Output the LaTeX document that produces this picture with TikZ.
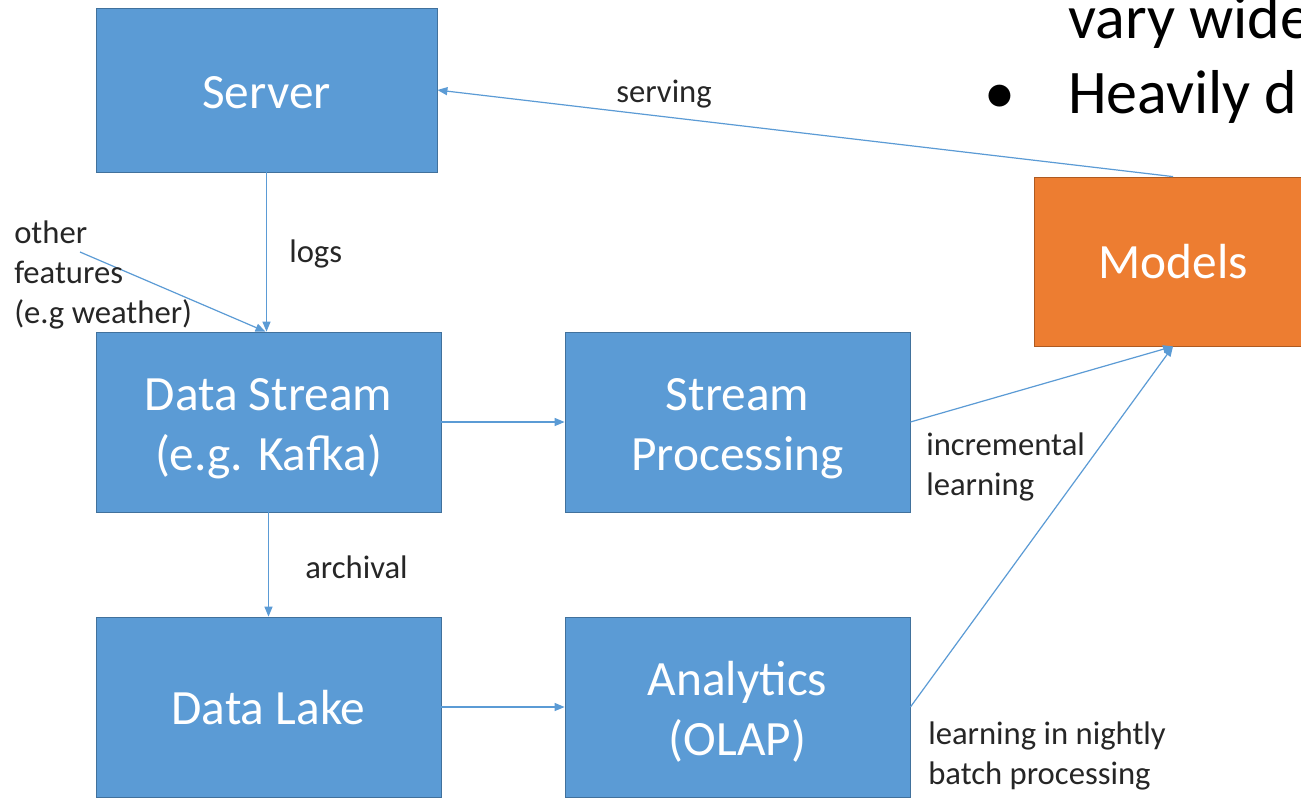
\documentclass[tikz,border=0pt]{standalone}
\usepackage{fontspec}
\setmainfont{Carlito}
\usetikzlibrary{arrows.meta}
\definecolor{boxblue}{HTML}{5B9BD5}
\definecolor{boxblueline}{HTML}{41719C}
\definecolor{boxorange}{HTML}{ED7D31}
\definecolor{boxorangeline}{HTML}{AE5A21}
\begin{document}
\begin{tikzpicture}[x=0.75pt,y=-0.75pt,
  boxtxt/.style={text=white,inner sep=0pt,align=center,font=\fontsize{37}{45}\selectfont},
  bluebox/.style={draw=boxblueline,line width=0.6pt,fill=boxblue,inner sep=0pt},
  orangebox/.style={draw=boxorangeline,line width=0.6pt,fill=boxorange,inner sep=0pt},
  conn/.style={draw=boxblue,line width=0.9pt,-{Triangle[length=7.5pt,width=6pt]}},
  lbl/.style={inner sep=0pt,font=\fontsize{24.5}{30}\selectfont,text=black!85},
  lbll/.style={lbl,anchor=west,align=left}]
\useasboundingbox (0,0) rectangle (1301,797);
\clip (0,0) rectangle (1301,797);
\fill[white] (0,0) rectangle (1301,797);

\node[bluebox,minimum width=255.75pt,minimum height=123pt,
  label={[boxtxt,yshift=-2.25pt]center:Server}] (SV) at (266.5,90) {};
\node[bluebox,minimum width=258.75pt,minimum height=135pt,
  label={[boxtxt,yshift=-4.75pt]center:Data Stream\\(e.g. Kafka)}] (DS) at (268.5,422) {};
\node[bluebox,minimum width=258.75pt,minimum height=135pt,
  label={[boxtxt,yshift=-4.75pt]center:Stream\\Processing}] (SP) at (737.5,422) {};
\node[bluebox,minimum width=258.75pt,minimum height=135pt,
  label={[boxtxt,yshift=-0.75pt]center:Data Lake}] (DL) at (268.5,707) {};
\node[bluebox,minimum width=258.75pt,minimum height=135pt,
  label={[boxtxt,yshift=-3.75pt]center:Analytics\\(OLAP)}] (AN) at (737.5,707) {};
\node[orangebox,minimum width=208.5pt,minimum height=126.75pt,
  label={[boxtxt]center:Models}] (MD) at (1173,261.5) {};

\coordinate (OF) at (80,252);

\draw[conn] (SV.south) -- (SV.south |- DS.north);
\draw[conn] (OF) -- ([xshift=-2.25pt]DS.north);
\draw[conn] (DS.east) -- (SP.west);
\draw[conn] (DS.south) -- (DL.north);
\draw[conn] (DL.east) -- (AN.west);
\draw[conn] (SP.east) -- (MD.south);
\draw[conn] (AN.east) -- (MD.south);
\draw[conn] (MD.north) -- (SV.east);

\node[lbl,anchor=west] (Llogs) at (289,254) {logs};
\node[lbl,anchor=west] (Larch) at (305,567) {archival};
\node[lbl] (Lserv) at (664,94) {serving};
\node[lbll] (Lother) at (14,275) {other\\features\\(e.g weather)};
\node[lbll] (Linc) at (926,467) {incremental\\learning};
\node[lbll] (Lnight) at (928,756) {learning in nightly\\batch processing};

\node[inner sep=0pt,anchor=base west,font=\fontsize{46.5}{56}\selectfont] (T1) at (1068,38) {vary wide};
\node[inner sep=0pt,anchor=base west,font=\fontsize{46.5}{56}\selectfont] (T2) at (1068,113) {Heavily d};
\node[inner sep=0pt,anchor=base,font=\fontsize{46.5}{56}\selectfont] (B2) at (1000,113) {•};
\end{tikzpicture}
\end{document}
